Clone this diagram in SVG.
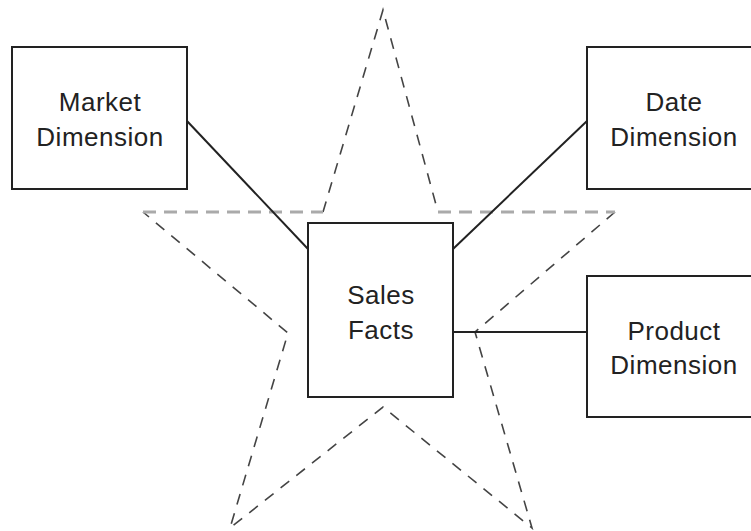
<svg xmlns="http://www.w3.org/2000/svg" width="751" height="531" viewBox="0 0 751 531">
<style>
.box{fill:#fff;stroke:#222;stroke-width:2}
.lbl{font-family:"Liberation Sans",Arial,sans-serif;font-size:26px;letter-spacing:0.5px;fill:#222;text-anchor:middle}
.conn{stroke:#222;stroke-width:2;fill:none}
.star{stroke:#444;stroke-width:1.6;fill:none;stroke-dasharray:11 9}
.starh{stroke:#aaa;stroke-width:3;fill:none;stroke-dasharray:13 8}
</style>
<rect width="751" height="531" fill="#fff"/>
<g id="star">
<polyline class="star" points="323,212 383,10 438,212"/>
<polyline class="star" points="615,212 475,332 532,528 383,407 230,528 288,333 143,212"/>
<line class="starh" x1="143" y1="212" x2="323" y2="212"/>
<line class="starh" x1="438" y1="212" x2="615" y2="212"/>
</g>
<g id="connectors">
<line class="conn" x1="187" y1="121" x2="308" y2="249"/>
<line class="conn" x1="453" y1="249" x2="587" y2="121"/>
<line class="conn" x1="453" y1="332" x2="587" y2="332"/>
</g>
<g id="market">
<rect class="box" x="12" y="47" width="175" height="142"/>
<text class="lbl" x="100" y="111">Market</text>
<text class="lbl" x="100" y="146">Dimension</text>
</g>
<g id="date">
<rect class="box" x="587" y="47" width="175" height="142"/>
<text class="lbl" x="674" y="111">Date</text>
<text class="lbl" x="674" y="146">Dimension</text>
</g>
<g id="sales">
<rect class="box" x="308" y="223" width="145" height="174"/>
<text class="lbl" x="381" y="304">Sales</text>
<text class="lbl" x="381" y="339">Facts</text>
</g>
<g id="product">
<rect class="box" x="587" y="276" width="175" height="141"/>
<text class="lbl" x="674" y="340">Product</text>
<text class="lbl" x="674" y="374">Dimension</text>
</g>
</svg>
